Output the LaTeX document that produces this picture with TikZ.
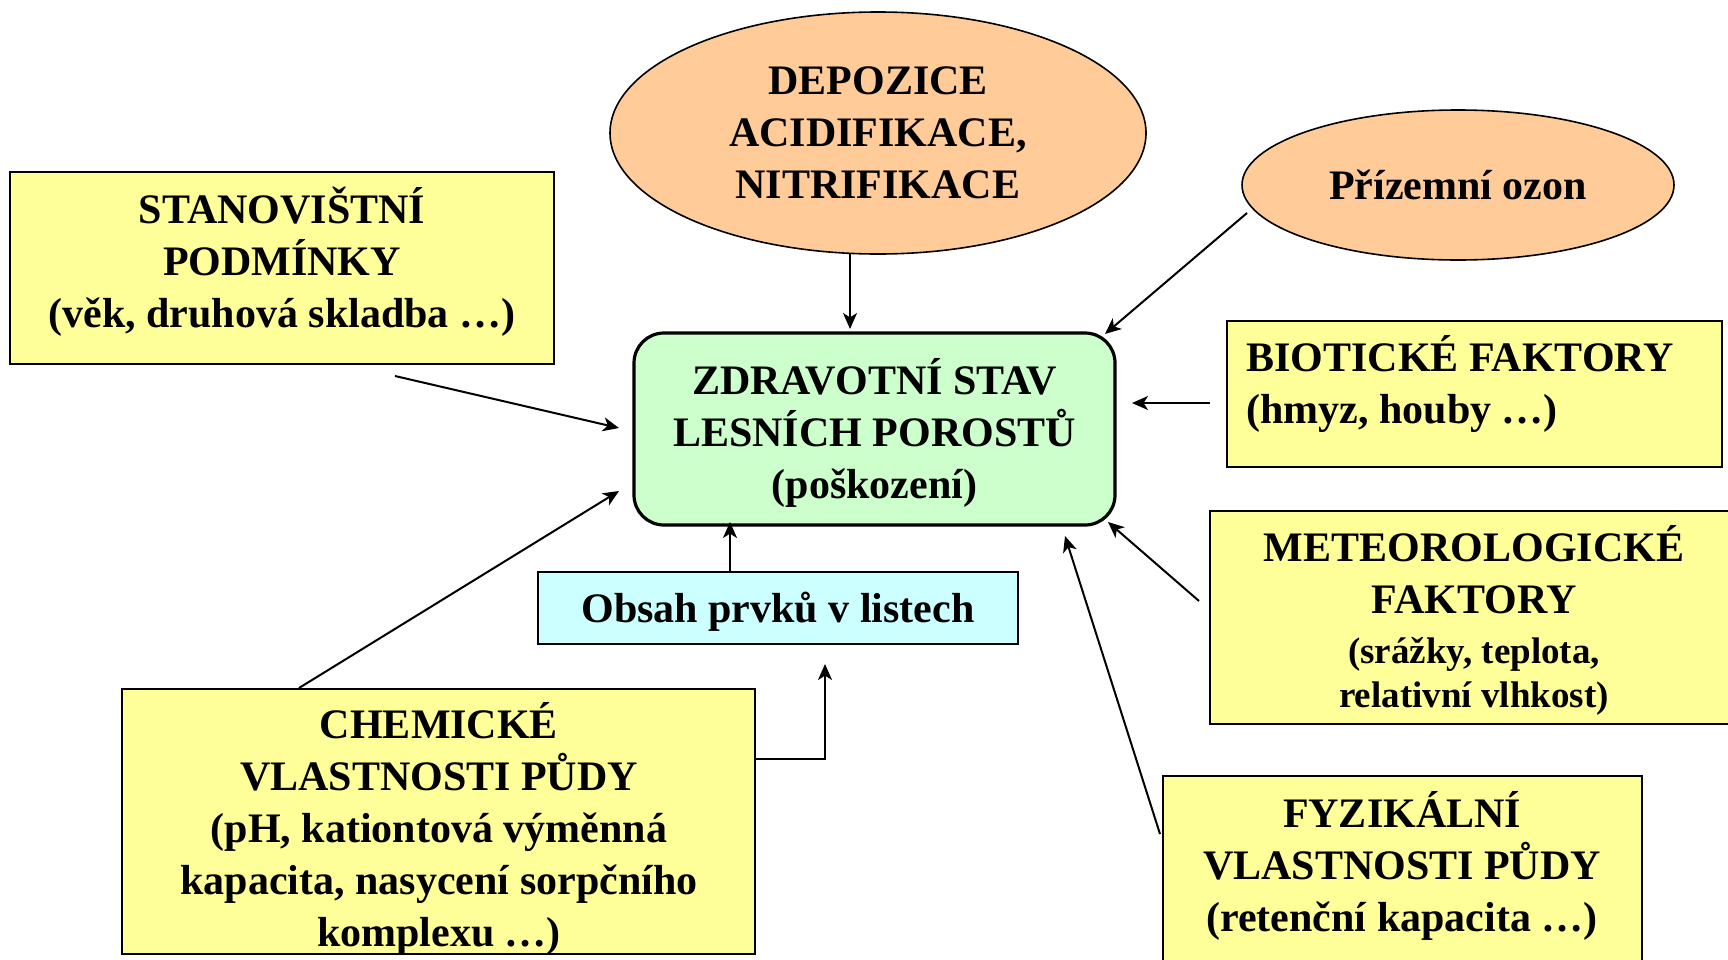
\documentclass[tikz,border=0pt]{standalone}
\usepackage{fontspec}
\setmainfont{Liberation Serif}
\usetikzlibrary{shapes.geometric,arrows.meta}
\definecolor{yel}{HTML}{FFFF99}
\definecolor{grn}{HTML}{CCFFCC}
\definecolor{cyn}{HTML}{CCFFFF}
\definecolor{org}{HTML}{FFCC99}
\tikzset{
  big/.style={font=\fontsize{21}{26}\selectfont\bfseries},
  ybox/.style={draw=black, line width=1pt, fill=yel, rectangle, inner sep=0pt},
  oval/.style={draw=black, line width=0.8pt, fill=org, ellipse, inner sep=0pt},
  arr/.style={line width=1pt, -{Stealth[length=8pt,width=7pt,inset=2.2pt]}},
  txt/.style={big, inner sep=0pt},
}
\newcommand{\sm}{\fontsize{18.5}{22}\selectfont}
\begin{document}
\begin{tikzpicture}[x=0.5pt,y=-0.5pt]
\useasboundingbox (0,0) rectangle (1728,959);
\clip (0,0) rectangle (1728,959);
% ellipses
\node[oval, big, minimum width=268pt, minimum height=121pt, align=center] (dep) at (878,133)
  {DEPOZICE\\ACIDIFIKACE,\\NITRIFIKACE};
\node[oval, big, minimum width=216pt, minimum height=75pt] (ozon) at (1458,185) {Přízemní ozon};
% boxes
\node[ybox, minimum width=272pt, minimum height=96pt] (stan) at (282,268) {};
\node[txt, align=center] (stant) at (282,262) {STANOVIŠTNÍ\\PODMÍNKY\\(věk, druhová skladba …)};
\node[draw=black, line width=1.6pt, fill=grn, rounded corners=15pt, inner sep=0pt,
  minimum width=240.5pt, minimum height=96pt] (zdr) at (874.5,429) {};
\node[txt, align=center] (zdrt) at (874.5,432.5) {ZDRAVOTNÍ STAV\\LESNÍCH POROSTŮ\\(poškození)};
\node[ybox, minimum width=247.5pt, minimum height=73pt] (bio) at (1474.5,394) {};
\node[txt, align=left, anchor=west] (biot) at (1246,384) {BIOTICKÉ FAKTORY\\(hmyz, houby …)};
\node[ybox, minimum width=267.5pt, minimum height=106.5pt] (met) at (1477.5,617.5) {};
\node[txt, align=center] (mett) at (1474,620)
  {METEOROLOGICKÉ\\FAKTORY\\[-1pt]{\sm (srážky, teplota,}\\[-4pt]{\sm relativní vlhkost)}};
\node[draw=black, line width=1pt, fill=cyn, inner sep=0pt,
  minimum width=240pt, minimum height=36pt] (obs) at (778,608) {};
\node[txt] (obst) at (778,612) {Obsah prvků v listech};
\node[ybox, minimum width=316.5pt, minimum height=132.5pt] (chem) at (438.5,821.5) {};
\node[txt, align=center] (chemt) at (439,829)
  {CHEMICKÉ\\VLASTNOSTI PŮDY\\(pH, kationtová výměnná\\kapacita, nasycení sorpčního\\komplexu …)};
\node[ybox, minimum width=239.5pt, minimum height=107pt] (fyz) at (1402.5,883) {};
\node[txt, align=center] (fyzt) at (1402,866)
  {FYZIKÁLNÍ\\VLASTNOSTI PŮDY\\(retenční kapacita …)};
% arrow end points
\coordinate (a1) at (850,254);  \coordinate (b1) at (850,329);
\coordinate (a2) at (1247,213); \coordinate (b2) at (1105,334);
\coordinate (a3) at (395,376);  \coordinate (b3) at (619,428);
\coordinate (a4) at (1210,403); \coordinate (b4) at (1132,403);
\coordinate (a5) at (299,688);  \coordinate (b5) at (619,491);
\coordinate (a6) at (730,571);  \coordinate (b6) at (730,522);
\coordinate (a7) at (755,759);  \coordinate (k7) at (825,759); \coordinate (b7) at (825,664);
\coordinate (a8) at (1199,601); \coordinate (b8) at (1108,522);
\coordinate (a9) at (1160,834); \coordinate (b9) at (1065,536);
\draw[arr] (a1) -- (b1);
\draw[arr] (a2) -- (b2);
\draw[arr] (a3) -- (b3);
\draw[arr] (a4) -- (b4);
\draw[arr] (a5) -- (b5);
\draw[arr] (a6) -- (b6);
\draw[arr] (a7) -- (k7) -- (b7);
\draw[arr] (a8) -- (b8);
\draw[arr] (a9) -- (b9);
\end{tikzpicture}
\end{document}
